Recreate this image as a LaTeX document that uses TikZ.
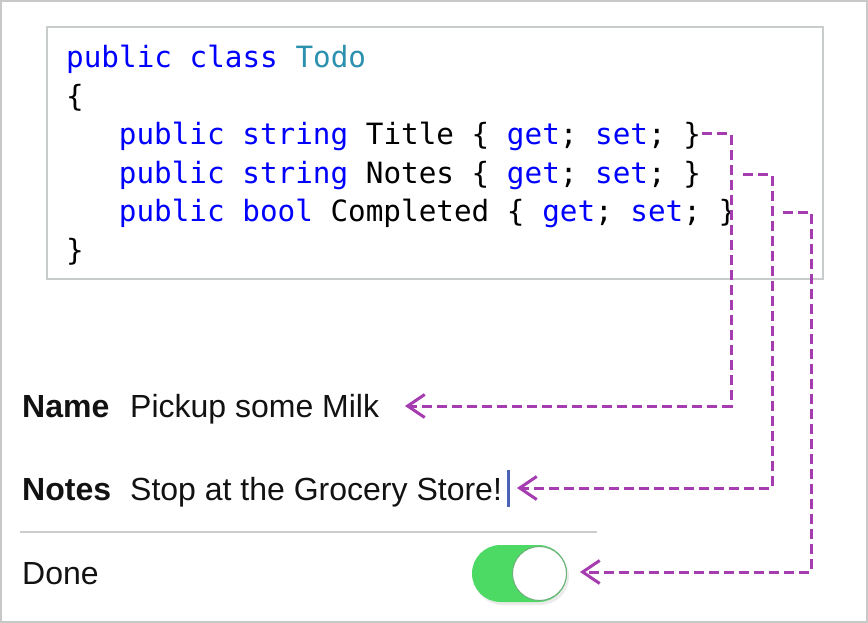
\documentclass[tikz,border=0pt]{standalone}
\usepackage{fontspec}
\setmainfont{Liberation Sans}
\newfontfamily\codefont{DejaVu Sans Mono}
\usetikzlibrary{arrows.meta,calc}
\definecolor{kw}{RGB}{0,0,255}
\definecolor{ty}{RGB}{43,145,175}
\definecolor{conncol}{RGB}{165,60,175}
\definecolor{frame}{RGB}{200,204,204}
\definecolor{outer}{RGB}{200,200,200}
\definecolor{sepcol}{RGB}{205,205,205}
\definecolor{tgreen}{RGB}{76,217,100}
\definecolor{cursorcol}{RGB}{74,99,184}
\tikzset{
  codeline/.style={anchor=base west, inner sep=0pt, font=\codefont\fontsize{29.3}{35}\selectfont},
  uitext/.style={anchor=base west, inner sep=0pt, text=black!93, font=\fontsize{32}{38}\selectfont},
  uilabel/.style={uitext, font=\bfseries\fontsize{32}{38}\selectfont},
  conn/.style={draw=conncol, line width=3pt, dash pattern=on 10pt off 5pt,
     -{Straight Barb[length=17pt,width=23pt,line width=3pt]}},
  boxframe/.style={draw=frame, line width=2pt},
}
\begin{document}
\begin{tikzpicture}[x=1pt,y=-1pt]
\useasboundingbox (0,0) rectangle (868,623);
\fill[white] (0,0) rectangle (868,623);
\draw[draw=outer, line width=2pt] (1,1) rectangle (867,622);
% code box
\draw[boxframe] (47,27) rectangle (823,279);
\node[codeline] (c1) at (66,68) {\textcolor{kw}{public class} \textcolor{ty}{Todo}};
\node[codeline] (c2) at (66,106.5) {\{};
\node[codeline] (c3) at (118.7,145) {\textcolor{kw}{public string} Title \{ \textcolor{kw}{get}; \textcolor{kw}{set}; \}};
\node[codeline] (c4) at (118.7,183.5) {\textcolor{kw}{public string} Notes \{ \textcolor{kw}{get}; \textcolor{kw}{set}; \}};
\node[codeline] (c5) at (118.7,222) {\textcolor{kw}{public bool} Completed \{ \textcolor{kw}{get}; \textcolor{kw}{set}; \}};
\node[codeline] (c6) at (66,260.5) {\}};
% form
\node[uilabel] (nameL) at (22,417) {Name};
\node[uitext] (nameV) at (130,417) {Pickup some Milk};
\node[uilabel] (notesL) at (22,500) {Notes};
\node[uitext] (notesV) at (130,500) {Stop at the Grocery Store!};
\draw[cursorcol, line width=2.5pt] (508.5,470) -- (508.5,507);
\draw[sepcol, line width=1.5pt] (20,532) -- (597,532);
\node[uitext] (doneL) at (22,584) {Done};
% toggle
\fill[black!8, rounded corners=28.5pt] (474,548) rectangle (569,605);
\node[fill=tgreen, minimum width=95pt, minimum height=57pt, rounded corners=28.5pt, inner sep=0pt] (toggle) at (519.5,573.5) {};
\node[circle, fill=white, draw=black!35!tgreen!70, line width=1pt, minimum size=54pt, inner sep=0pt] (knob) at (539.5,573.5) {};
% connector end points
\coordinate (s1) at (702,134);
\coordinate (s2) at (743,175);
\coordinate (s3) at (783,212);
\coordinate (e1) at (405,406);
\coordinate (e2) at (517,488);
\coordinate (e3) at (580,572);
\draw[conn] (s1) -- (731,134) |- (e1);
\draw[conn] (s2) -- (772,175) |- (e2);
\draw[conn] (s3) -- (811,212) |- (e3);
\end{tikzpicture}
\end{document}
